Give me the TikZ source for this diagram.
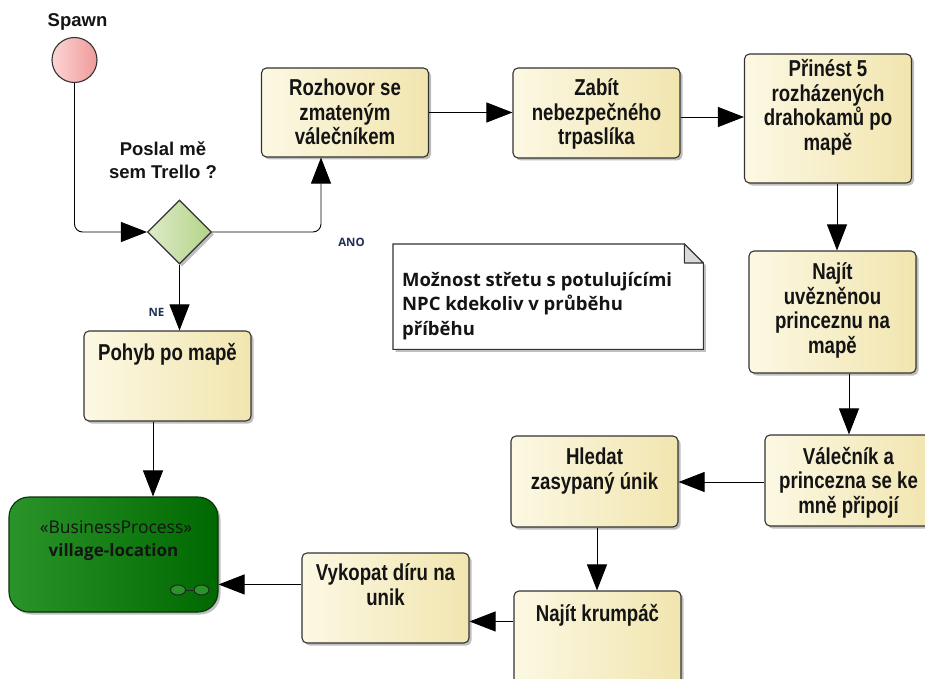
\documentclass[tikz,border=0pt]{standalone}
\usepackage{fontspec}
\setmainfont{Liberation Sans}
\newfontfamily\narrowfont[FakeStretch=0.81]{Liberation Sans}
\newfontfamily\uifont{Open Sans}
\usetikzlibrary{shapes.geometric,shadows,arrows.meta}

\definecolor{taskL}{HTML}{FCF8E3}
\definecolor{taskR}{HTML}{F1E5AF}
\definecolor{edgeC}{HTML}{333333}
\definecolor{procL}{HTML}{2A942A}
\definecolor{procR}{HTML}{006800}
\definecolor{procEdge}{HTML}{0B300B}
\definecolor{startL}{HTML}{FDD5D5}
\definecolor{startR}{HTML}{EF9A9A}
\definecolor{gateL}{HTML}{DDEBC8}
\definecolor{gateR}{HTML}{B4D388}
\definecolor{guardC}{HTML}{1F2F55}
\definecolor{foldC}{HTML}{D9D9D9}
\definecolor{inkC}{HTML}{141414}

% invisible rule fixing the height of a first text line
\newcommand{\ascstrut}{\rule{0pt}{0.82em}}

\tikzset{
  softshadow/.style={drop shadow={shadow xshift=2.5pt, shadow yshift=-2.5pt, fill=black, opacity=0.25}},
  task/.style={draw=edgeC, line width=1.1pt, rounded corners=5pt,
    left color=taskL, right color=taskR, minimum width=167pt, inner sep=0pt, softshadow},
  tasktext/.style={anchor=north, align=center, inner sep=0pt, text=inkC,
    font=\narrowfont\bfseries\fontsize{23}{24.5}\selectfont,
    execute at begin node=\ascstrut},
  headtext/.style={inner sep=0pt, text=inkC, align=center,
    font=\bfseries\fontsize{18.5}{23}\selectfont, execute at begin node=\ascstrut},
  guard/.style={anchor=base, inner sep=0pt, text=guardC,
    font=\uifont\bfseries\fontsize{11.5}{13}\selectfont},
  flow/.style={draw=black, line width=0.9pt, -{Triangle[length=26pt,width=20pt]}},
}

\begin{document}
\begin{tikzpicture}[x=1pt,y=-1pt]
\useasboundingbox (0,0) rectangle (925,679);
\fill[white] (0,0) rectangle (925,679);
\clip (0,0) rectangle (925,679);

% start event and gateway
\node[headtext, anchor=north] (spawnT) at (77.5,11) {Spawn};
\node[circle, draw=edgeC, line width=1.1pt, left color=startL, right color=startR,
  minimum size=45pt, inner sep=0pt] (spawn) at (74.5,60) {};
\node[headtext, anchor=north] (gateT) at (163,141.8) {Poslal mě\\sem Trello ?};
\node[diamond, draw=edgeC, line width=1.1pt, left color=gateL, right color=gateR,
  minimum width=64pt, minimum height=64pt, inner sep=0pt, softshadow] (gate) at (179.5,232) {};

% activities
\node[task, minimum height=89pt] (rozh) at (345,112.5) {};
\node[tasktext] (rozhT) at ([yshift=-11.2pt]rozh.north) {Rozhovor se\\zmateným\\válečníkem};

\node[task, minimum height=90pt] (zabit) at (596.5,113) {};
\node[tasktext] (zabitT) at ([yshift=-11.2pt]zabit.north) {Zabít\\nebezpečného\\trpaslíka};

\node[task, minimum height=129pt] (prinest) at (828,118.5) {};
\node[tasktext] (prinestT) at ([yshift=-6.1pt]prinest.north) {Přinést 5\\rozházených\\drahokamů po\\mapě};

\node[task, minimum height=122pt] (najit) at (832.5,312) {};
\node[tasktext] (najitT) at ([yshift=-12.2pt]najit.north) {Najít\\uvězněnou\\princeznu na\\mapě};

\node[task, minimum height=91pt] (valecnik) at (848.5,480.5) {};
\node[tasktext] (valecnikT) at ([yshift=-12.2pt]valecnik.north) {Válečník a\\princezna se ke\\mně připojí};

\node[task, minimum height=91pt] (hledat) at (594.5,481.5) {};
\node[tasktext] (hledatT) at ([yshift=-12.2pt]hledat.north) {Hledat\\zasypaný únik};

\node[task, minimum height=109pt] (krump) at (597.5,645.5) {};
\node[tasktext] (krumpT) at ([yshift=-11.7pt]krump.north) {Najít krumpáč};

\node[task, minimum height=90pt] (vykopat) at (385.5,598) {};
\node[tasktext] (vykopatT) at ([yshift=-11.2pt]vykopat.north) {Vykopat díru na\\unik};

\node[task, minimum height=90pt] (pohyb) at (167.5,376) {};
\node[tasktext] (pohybT) at ([yshift=-11.2pt]pohyb.north) {Pohyb po mapě};

% called business process
\node[draw=procEdge, line width=1.1pt, rounded corners=20pt, left color=procL, right color=procR,
  minimum width=209pt, minimum height=115pt, inner sep=0pt, softshadow] (village) at (113.5,554.5) {};
\node[anchor=base, inner sep=0pt, text=inkC, font=\uifont\fontsize{17.5}{21}\selectfont]
  (villageS) at (116,533) {«BusinessProcess»};
\node[anchor=base, inner sep=0pt, text=inkC, font=\uifont\bfseries\fontsize{17}{21}\selectfont]
  (villageN) at (113.5,556) {village-location};
\draw[line width=1pt, draw=black!85] (185,590) -- (194,590);
\draw[line width=1pt, draw=black!85, fill=procL] (178,590) ellipse [x radius=7.5pt, y radius=5pt];
\draw[line width=1pt, draw=black!85, fill=procL] (201.5,590) ellipse [x radius=7.5pt, y radius=5pt];

% annotation note with folded corner
\node[minimum width=310pt, minimum height=105pt, inner sep=0pt, anchor=north west] (note) at (393,244) {};
\filldraw[fill=white, draw=edgeC, line width=1.1pt, softshadow]
  (note.north west) -- ([xshift=-19pt]note.north east) -- ([yshift=-19pt]note.north east)
  -- (note.south east) -- (note.south west) -- cycle;
\filldraw[fill=foldC, draw=edgeC, line width=1.1pt, line join=round]
  ([xshift=-19pt]note.north east) -- ([xshift=-19pt,yshift=-19pt]note.north east)
  -- ([yshift=-19pt]note.north east) -- cycle;
\node[anchor=north west, align=left, inner sep=0pt, text=inkC,
  font=\uifont\bfseries\fontsize{18.5}{24.5}\selectfont, execute at begin node=\ascstrut]
  (noteT) at (402,271.8) {Možnost střetu s potulujícími\\NPC kdekoliv v průběhu\\příběhu};

% sequence flows
\draw[flow, rounded corners=8pt] (spawn.south) |- (gate.west);
\draw[flow, rounded corners=8pt] (gate.east) -| ([xshift=-24pt]rozh.south);
\draw[flow] (gate.south) -- (gate.south |- pohyb.north);
\draw[flow] ([xshift=-14.5pt]pohyb.south) -- ([xshift=-14.5pt]pohyb.south |- village.north);
\draw[flow] (rozh.east) -- (rozh.east -| zabit.west);
\draw[flow] ([yshift=-4pt]zabit.east) -- ([yshift=-4pt]zabit.east -| prinest.west);
\draw[flow] ([xshift=9pt]prinest.south) -- ([xshift=9pt]prinest.south |- najit.north);
\draw[flow] ([xshift=16.5pt]najit.south) -- ([xshift=16.5pt]najit.south |- valecnik.north);
\draw[flow] ([yshift=-1.5pt]valecnik.west) -- ([yshift=-1.5pt]valecnik.west -| hledat.east);
\draw[flow] ([xshift=2.5pt]hledat.south) -- ([xshift=2.5pt]hledat.south |- krump.north);
\draw[flow] ([yshift=-31pt]krump.north west) -- ([yshift=-31pt]krump.north west -| vykopat.east);
\draw[flow] ([yshift=-32pt]vykopat.north west) -- ([yshift=-32pt]vykopat.north west -| village.east);

% guard labels
\node[guard] (ano) at (351.5,246.5) {ANO};
\node[guard] (ne) at (156.5,316) {NE};
\end{tikzpicture}
\end{document}
